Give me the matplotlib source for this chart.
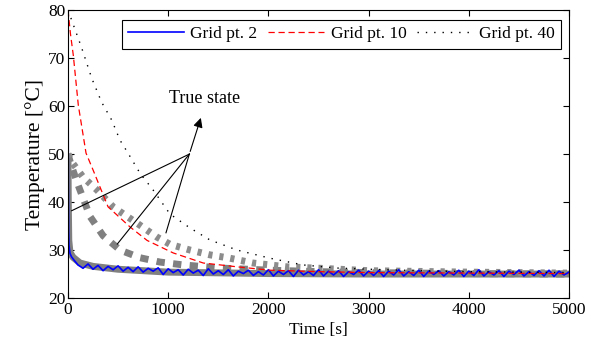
import numpy as np
import matplotlib.pyplot as plt

plt.rcParams['font.family'] = ['Liberation Serif', 'DejaVu Serif']
plt.rcParams['font.size'] = 12.5

# estimated (grid points)
blue_t = [0, 1, 3, 6, 10, 20, 35, 60] + list(np.arange(100, 5001, 50))
blue_y = [80, 65, 45, 34, 31, 29.3, 28.6, 27.9,
          26.9, 26.2, 27.1, 26.0, 26.8, 25.7, 26.6, 25.9, 26.7, 25.6,
          26.4, 25.5, 26.5, 25.4, 26.2, 25.6, 26.3, 24.9, 26.1, 25.3,
          25.9, 24.8, 26.0, 25.2, 25.8, 24.7, 26.1, 25.0, 25.7, 24.9,
          25.9, 24.6, 25.6, 25.1, 25.8, 24.7, 25.5, 24.8, 25.9, 24.6,
          25.6, 24.9, 25.7, 24.5, 25.8, 24.8, 25.5, 24.7, 25.9, 24.6,
          25.6, 24.8, 25.7, 24.5, 25.5, 24.9, 25.8, 24.6, 25.6, 24.7,
          25.7, 24.5, 25.6, 24.8, 25.9, 24.6, 25.5, 24.7, 25.8, 24.5,
          25.6, 24.9, 25.7, 24.6, 25.5, 24.8, 25.8, 24.5, 25.6, 24.7,
          25.9, 24.6, 25.5, 24.8, 25.7, 24.5, 25.6, 24.9, 25.8, 24.6,
          25.5, 24.7, 25.7, 24.6, 25.8, 24.5, 25.6, 24.8, 25.4]

red_t = [0, 25, 53, 103, 180, 250, 400, 620, 790, 1050, 1350, 1690, 2020, 2500, 3000, 4000, 5000]
red_y = [80, 75, 70.6, 60.2, 50.2, 46.7, 39, 34.8, 32, 29.4, 27.3, 26.5, 25.8, 25.5, 25.3, 25.2, 25.1]

black_t = [0, 37, 137, 237, 336, 436, 519, 599, 719, 850, 1018, 1218, 1417, 1687, 2016, 2345,
           2685, 3014, 3500, 4000, 5000]
black_y = [80, 77.9, 72.1, 65.8, 60.8, 57.1, 52.9, 50.2, 46, 42.5, 37.5, 34.6, 32.1, 30, 28.3, 26.9,
           26.25, 26.0, 25.7, 25.5, 25.3]

# true state
true2_t = [0, 3, 8, 20, 50, 120, 250, 500, 1000, 2000, 3000, 5000]
true2_y = [50, 40, 32, 29.5, 28.5, 27.3, 26.6, 26.0, 25.4, 25.1, 25.0, 25.0]

true10_t = [0, 30, 100, 220, 350, 519, 719, 918, 1150, 1517, 2016, 2500, 3000, 4000, 5000]
true10_y = [50, 47.8, 43.6, 37, 33, 30, 28.4, 27.5, 26.9, 26.25, 25.8, 25.5, 25.3, 25.1, 25.0]

true40_t = [0, 50, 150, 290, 450, 689, 888, 1018, 1218, 1417, 1617, 1846, 2186, 2515, 3000, 4000, 5000]
true40_y = [50, 48, 45.2, 42.5, 39, 35.6, 32.7, 31.2, 30, 29, 28.3, 27.3, 26.5, 26.2, 25.7, 25.4, 25.2]

fig = plt.figure(figsize=(5.99, 3.49), dpi=100)
ax = fig.add_axes([0.1135, 0.146, 0.8365, 0.825])

# gray thick lines first
ax.plot(true2_t, true2_y, color='0.5', lw=5, solid_capstyle='butt')
ax.plot(true10_t, true10_y, color='0.5', lw=5, dashes=(1.2, 1.2))
ax.plot(true40_t, true40_y, color='0.55', lw=5, dashes=(0.6, 1.0))

l2, = ax.plot(blue_t, blue_y, color='blue', lw=1.2)
l10, = ax.plot(red_t, red_y, color='red', lw=0.9, dashes=(5, 3))
l40, = ax.plot(black_t, black_y, color='black', lw=1.0, dashes=(1, 5))

# annotation
junction = (1211, 50)
for tx, ty in [(37, 38.2), (492, 31.25), (978, 33.6)]:
    ax.plot([junction[0], tx], [junction[1], ty], color='black', lw=0.8)
ax.annotate('', xy=(1334, 58.1), xytext=junction,
            arrowprops=dict(arrowstyle='-|>', color='black', lw=0.8, mutation_scale=14))
ax.text(1367, 61.5, 'True state', ha='center', va='center', fontsize=13)

ax.set_xlim(0, 5000)
ax.set_ylim(20, 80)
ax.set_xticks(np.arange(0, 5001, 1000))
ax.set_yticks(np.arange(20, 81, 10))
ax.tick_params(direction='in', top=True, right=True, length=4, pad=2)
ax.tick_params(axis='x', pad=3)
ax.set_xlabel('Time [s]', labelpad=3)
ax.set_ylabel('Temperature [°C]', labelpad=2, fontsize=15.5)

leg = ax.legend([l2, l10, l40], ['Grid pt. 2', 'Grid pt. 10', 'Grid pt. 40'],
                loc='upper right', bbox_to_anchor=(0.984, 0.965), ncol=3,
                fancybox=False, framealpha=1, edgecolor='black',
                handlelength=3.2, columnspacing=0.6, handletextpad=0.4,
                borderaxespad=0, borderpad=0.35, fontsize=12.5)
leg.get_frame().set_linewidth(0.8)

fig.savefig('out.png', dpi=100)
